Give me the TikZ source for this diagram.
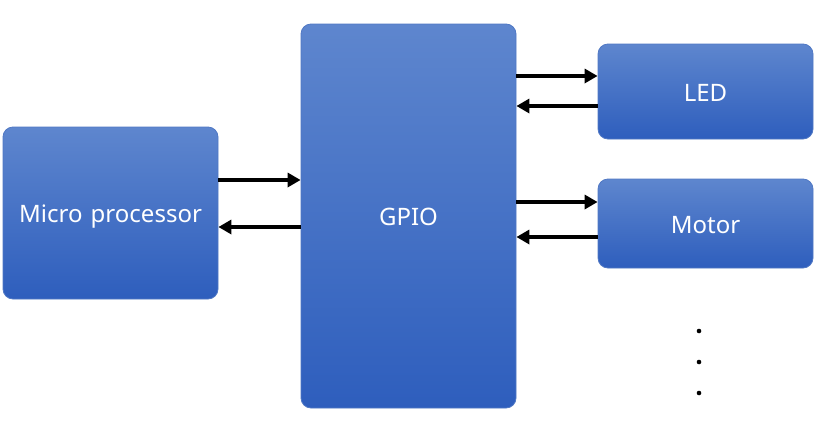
\documentclass[tikz,border=0pt]{standalone}
\usepackage{fontspec}
\setmainfont{Noto Sans}
\usetikzlibrary{arrows.meta}
\definecolor{blocktop}{RGB}{94,134,206}
\definecolor{blockbot}{RGB}{46,94,189}
\definecolor{blockline}{RGB}{80,120,196}

\tikzset{
  block/.style={draw=blockline, line width=0.8pt, rounded corners=10pt,
    top color=blocktop, bottom color=blockbot, text=white,
    font=\fontsize{24}{28}\selectfont, inner sep=0pt,
    text height=25pt, text depth=5.5pt},
  conn/.style={line width=4pt, -{Triangle[length=13pt,width=14pt]}}
}

\begin{document}
\begin{tikzpicture}[x=1pt,y=-1pt]
	\useasboundingbox (0,0) rectangle (837,434);
	% blocks
	\node[block, minimum width=215pt, minimum height=172pt] (mp) at (110.5,213) {Micro\hspace{2pt} processor};
	\node[block, minimum width=215pt, minimum height=384pt] (gpio) at (408.5,216) {GPIO};
	\node[block, minimum width=215pt, minimum height=95pt] (led) at (705.5,91.5) {LED};
	\node[block, minimum width=215pt, minimum height=89pt] (motor) at (705.5,223.5) {Motor};
	% connections
	\draw[conn] (mp.east |- 0,180) -- (gpio.west |- 0,180);
	\draw[conn] (gpio.west |- 0,227) -- (mp.east |- 0,227);
	\draw[conn] (gpio.east |- 0,76) -- (led.west |- 0,76);
	\draw[conn] (led.west |- 0,106) -- (gpio.east |- 0,106);
	\draw[conn] (gpio.east |- 0,202) -- (motor.west |- 0,202);
	\draw[conn] (motor.west |- 0,237) -- (gpio.east |- 0,237);
	% more devices
	\foreach \y in {331,362,393}
		\fill (699,\y) circle (2.3pt);
\end{tikzpicture}
\end{document}
